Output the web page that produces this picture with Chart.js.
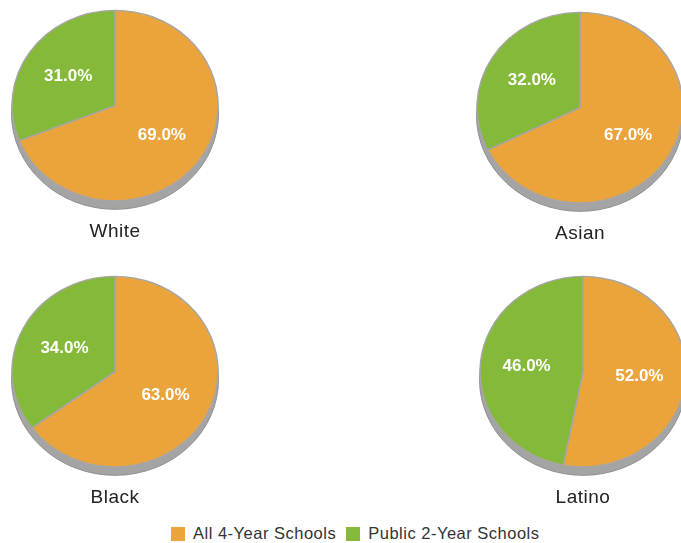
<!DOCTYPE html>
<html>
<head>
<meta charset="utf-8">
<script src="https://cdn.jsdelivr.net/npm/chart.js@4/dist/chart.umd.min.js"></script>
<style>
  body { margin: 0; width: 681px; height: 543px; overflow: hidden; background: #fff; position: relative; font-family: "Liberation Sans", Arial, sans-serif; }
  .pie { position: absolute; width: 230px; height: 255px; }
  #legend { position: absolute; top: 524px; left: 171px; display: flex; align-items: center; font-size: 16.5px; letter-spacing: 0.5px; color: #333; white-space: nowrap; }
  #legend span.box { display: inline-block; width: 14px; height: 14px; margin-right: 8px; }
  #legend span.item { display: inline-flex; align-items: center; margin-right: 10px; }
</style>
</head>
<body>
<div class="pie" style="left:0px;top:-9px"><canvas id="pie0" width="230" height="255"></canvas></div>
<div class="pie" style="left:465px;top:-7px"><canvas id="pie1" width="230" height="255"></canvas></div>
<div class="pie" style="left:0px;top:257px"><canvas id="pie2" width="230" height="255"></canvas></div>
<div class="pie" style="left:468px;top:257px"><canvas id="pie3" width="230" height="255"></canvas></div>
<div id="legend"></div>
<script>
const groups = ['White', 'Asian', 'Black', 'Latino'];
const seriesNames = ['All 4-Year Schools', 'Public 2-Year Schools'];
const fourYear = [69, 67, 63, 52];
const twoYear = [31, 32, 34, 46];
const colors = ['#EBA43B', '#84B93A'];

// pies are squashed a little and sit on a grey edge to look tilted
const tilt = 0.925;
const depth = 8;

const tiltPlugin = {
  id: 'tilt',
  beforeDraw(chart) {
    chart.ctx.letterSpacing = '0.5px';
  },
  beforeDatasetsDraw(chart) {
    const arc = chart.getDatasetMeta(0).data[0];
    const { x, y, outerRadius } = arc.getProps(['x', 'y', 'outerRadius'], true);
    const ctx = chart.ctx;
    ctx.letterSpacing = '0px';
    ctx.save();
    ctx.translate(x, y);
    ctx.scale(1, tilt);
    ctx.translate(-x, -y);
    ctx.beginPath();
    ctx.arc(x, y + depth / tilt, outerRadius + 0.5, 0, Math.PI * 2);
    ctx.fillStyle = '#a4a4a4';
    ctx.fill();
    ctx.strokeStyle = '#8e8e8e';
    ctx.lineWidth = 1;
    ctx.stroke();
  },
  afterDatasetsDraw(chart) {
    const ctx = chart.ctx;
    ctx.restore();
    const values = chart.data.datasets[0].data;
    ctx.save();
    ctx.font = 'bold 17px "Liberation Sans", Arial, sans-serif';
    ctx.fillStyle = '#fff';
    ctx.textAlign = 'center';
    ctx.textBaseline = 'middle';
    chart.getDatasetMeta(0).data.forEach((arc, i) => {
      const p = arc.getProps(['x', 'y', 'startAngle', 'endAngle', 'outerRadius'], true);
      const mid = (p.startAngle + p.endAngle) / 2;
      const r = p.outerRadius * 0.55;
      ctx.fillText(values[i].toFixed(1) + '%', p.x + Math.cos(mid) * r, p.y + Math.sin(mid) * r * tilt);
    });
    ctx.restore();
  }
};

groups.forEach((group, i) => {
  new Chart(document.getElementById('pie' + i), {
    type: 'pie',
    data: {
      labels: seriesNames,
      datasets: [{
        data: [fourYear[i], twoYear[i]],
        backgroundColor: colors,
        borderColor: '#a6a6a6',
        borderWidth: 1.5
      }]
    },
    options: {
      responsive: false,
      animation: false,
      radius: 103,
      layout: { padding: 0 },
      plugins: {
        legend: { display: false },
        tooltip: { enabled: false },
        title: {
          display: true,
          text: group,
          position: 'bottom',
          color: '#222',
          font: { family: '"Liberation Sans", Arial, sans-serif', size: 19, weight: 'normal' },
          padding: { top: 0, bottom: 3 }
        }
      }
    },
    plugins: [tiltPlugin]
  });
});

const legend = document.getElementById('legend');
seriesNames.forEach((name, i) => {
  const item = document.createElement('span');
  item.className = 'item';
  const box = document.createElement('span');
  box.className = 'box';
  box.style.background = colors[i];
  item.appendChild(box);
  item.appendChild(document.createTextNode(name));
  legend.appendChild(item);
});
</script>
</body>
</html>
